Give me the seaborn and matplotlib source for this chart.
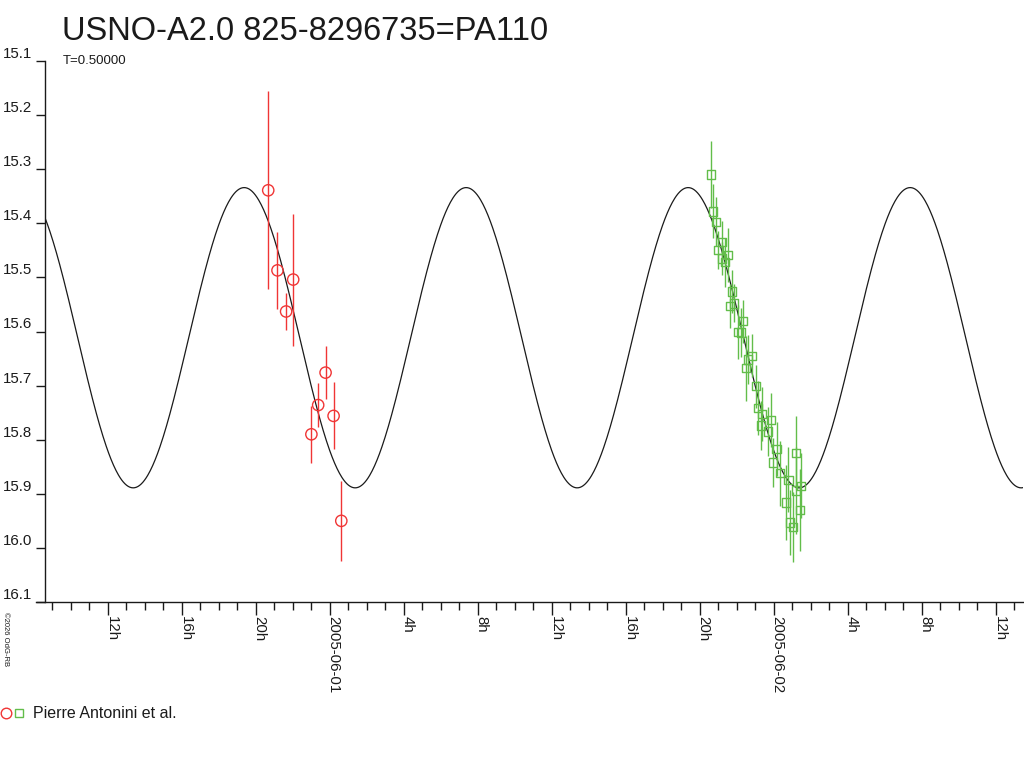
import numpy as np
import pandas as pd
import matplotlib
matplotlib.use("Agg")
import matplotlib.pyplot as plt
import matplotlib.dates as mdates
from matplotlib.ticker import FuncFormatter
from matplotlib.lines import Line2D
from matplotlib.legend_handler import HandlerTuple
import seaborn as sns

# ---------------- data ----------------
TITLE = "USNO-A2.0 825-8296735=PA110"
SUBTITLE = "T=0.50000"
OBSERVER = "Pierre Antonini et al."
COPYRIGHT = "\u00a92026 OdG-RB"

# night 1 (red circles)
red_times = ["2005-05-31 20:41", "2005-05-31 21:11", "2005-05-31 21:39",
             "2005-05-31 22:02", "2005-05-31 23:01", "2005-05-31 23:23",
             "2005-05-31 23:47", "2005-06-01 00:13", "2005-06-01 00:38"]
red_mags = [15.339, 15.487, 15.563, 15.504, 15.790, 15.736, 15.676, 15.756, 15.950]
red_errs = [0.183, 0.071, 0.035, 0.122, 0.053, 0.040, 0.049, 0.062, 0.074]

# night 2 (green squares)
green_times = ["2005-06-01 20:37", "2005-06-01 20:43", "2005-06-01 20:53",
               "2005-06-01 21:01", "2005-06-01 21:12", "2005-06-01 21:13",
               "2005-06-01 21:23", "2005-06-01 21:32", "2005-06-01 21:39",
               "2005-06-01 21:46", "2005-06-01 21:52", "2005-06-01 22:04",
               "2005-06-01 22:14", "2005-06-01 22:21", "2005-06-01 22:31",
               "2005-06-01 22:37", "2005-06-01 22:51", "2005-06-01 23:03",
               "2005-06-01 23:09", "2005-06-01 23:19", "2005-06-01 23:22",
               "2005-06-01 23:41", "2005-06-01 23:52", "2005-06-01 23:58",
               "2005-06-02 00:10", "2005-06-02 00:21", "2005-06-02 00:41",
               "2005-06-02 00:48", "2005-06-02 00:53", "2005-06-02 01:02",
               "2005-06-02 01:12", "2005-06-02 01:13", "2005-06-02 01:26",
               "2005-06-02 01:30"]
green_mags = [15.310, 15.378, 15.397, 15.449, 15.435, 15.465,
              15.472, 15.459, 15.553, 15.526, 15.548, 15.601,
              15.602, 15.581, 15.668, 15.652, 15.645, 15.701,
              15.742, 15.774, 15.752, 15.785, 15.764, 15.842,
              15.817, 15.862, 15.916, 15.874, 15.953, 15.961,
              15.894, 15.824, 15.930, 15.885]
green_errs = [0.062, 0.050, 0.045, 0.035, 0.040, 0.030,
              0.045, 0.050, 0.040, 0.040, 0.035, 0.050,
              0.045, 0.040, 0.060, 0.045, 0.040, 0.040,
              0.050, 0.045, 0.050, 0.045, 0.050, 0.045,
              0.050, 0.060, 0.070, 0.060, 0.060, 0.065,
              0.080, 0.068, 0.075, 0.060]

# fitted light-curve model (sinusoid with period T)
PERIOD_DAYS = 0.5
MEAN_MAG = 15.6115
AMPLITUDE = 0.2775
EPOCH_FAINTEST = "2005-06-01 01:23"

X_START = "2005-05-31 08:37"
X_END = "2005-06-02 13:29"
Y_TICKS = [15.1, 15.2, 15.3, 15.4, 15.5, 15.6, 15.7, 15.8, 15.9, 16.0, 16.1]

RED = "#f03535"
GREEN = "#62bd4a"
INK = "#1a1a1a"

# ---------------- frames ----------------
red_df = pd.DataFrame({"time": pd.to_datetime(red_times), "mag": red_mags, "err": red_errs})
green_df = pd.DataFrame({"time": pd.to_datetime(green_times), "mag": green_mags, "err": green_errs})

t0 = pd.Timestamp(X_START)
t1 = pd.Timestamp(X_END)
model_t = pd.date_range(t0, t1, periods=1200)
phase_days = (model_t - pd.Timestamp(EPOCH_FAINTEST)) / pd.Timedelta(days=1)
model_df = pd.DataFrame({"time": model_t,
                         "mag": MEAN_MAG + AMPLITUDE * np.cos(2 * np.pi * phase_days / PERIOD_DAYS)})

# ---------------- style ----------------
sns.set_theme(style="ticks")
plt.rcParams["font.family"] = ["Liberation Sans", "DejaVu Sans"]
plt.rcParams["axes.edgecolor"] = INK
plt.rcParams["axes.linewidth"] = 1.0

fig = plt.figure(figsize=(10.24, 7.68), dpi=100)
fig.patch.set_facecolor("white")
ax = fig.add_axes([45 / 1024, 1 - 602 / 768, 978 / 1024, 541 / 768])
ax.set_facecolor("white")

sns.lineplot(data=model_df, x="time", y="mag", ax=ax, color=INK,
             linewidth=0.9, estimator=None, sort=False)

ax.errorbar(red_df["time"], red_df["mag"], yerr=red_df["err"], fmt="none",
            ecolor=RED, elinewidth=1.0, capsize=0, zorder=3)
ax.errorbar(green_df["time"], green_df["mag"], yerr=green_df["err"], fmt="none",
            ecolor=GREEN, elinewidth=1.0, capsize=0, zorder=3)

sns.scatterplot(data=red_df, x="time", y="mag", ax=ax, marker="o", s=66,
                facecolor="none", edgecolor=RED, linewidth=1.0, zorder=4)
sns.scatterplot(data=green_df, x="time", y="mag", ax=ax, marker="s", s=36,
                facecolor="none", edgecolor=GREEN, linewidth=1.0, zorder=4)

ax.set_xlim(t0, t1)
ax.set_ylim(16.1, 15.1)
ax.set_xlabel("")
ax.set_ylabel("")
sns.despine(ax=ax)
# bottom axis line runs a little to the left of the y axis, as in the original
ax.spines["bottom"].set_bounds(mdates.date2num(t0 - pd.Timedelta(minutes=29)),
                               mdates.date2num(t1))

# y axis
ax.set_yticks(Y_TICKS)
ax.yaxis.set_major_formatter(FuncFormatter(lambda v, p: f"{v:.1f}"))
ax.tick_params(axis="y", direction="out", length=6.5, width=1.0, pad=3,
               labelsize=10.8, colors=INK)
for lab in ax.get_yticklabels():
    lab.set_verticalalignment("bottom")

# x axis
ax.xaxis.set_major_locator(mdates.HourLocator(byhour=range(0, 24, 4)))
ax.xaxis.set_minor_locator(mdates.HourLocator())


def hour_fmt(x, pos):
    frac = x % 1.0
    h = int(round(frac * 24)) % 24
    if h == 0:
        return mdates.num2date(round(x)).strftime("%Y-%m-%d")
    return f"{h}h"


ax.xaxis.set_major_formatter(FuncFormatter(hour_fmt))
ax.tick_params(axis="x", which="major", direction="out", length=9, width=1.0,
               pad=1.0, labelsize=10.8, colors=INK)
ax.tick_params(axis="x", which="minor", direction="out", length=6, width=1.0,
               colors=INK)
fig.canvas.draw()
for lab in ax.get_xticklabels():
    lab.set_rotation(-90)
    lab.set_rotation_mode("anchor")
    lab.set_horizontalalignment("left")
    lab.set_verticalalignment("baseline")

# texts
fig.text(62 / 1024, 1 - 40 / 768, TITLE, fontsize=23.5, va="baseline", ha="left", color=INK)
fig.text(63 / 1024, 1 - 63.5 / 768, SUBTITLE, fontsize=9.5, va="baseline", ha="left", color=INK)
fig.text(2 / 1024, 1 - 612 / 768, COPYRIGHT, fontsize=5.5, rotation=-90,
         va="top", ha="left", color=INK)

# legend
h_red = Line2D([], [], linestyle="none", marker="o", markersize=7.6,
               markerfacecolor="none", markeredgecolor=RED, markeredgewidth=1.0)
h_green = Line2D([], [], linestyle="none", marker="s", markersize=5.6,
                 markerfacecolor="none", markeredgecolor=GREEN, markeredgewidth=1.0)
fig.legend(handles=[(h_red, h_green)], labels=[OBSERVER],
           handler_map={tuple: HandlerTuple(ndivide=None, pad=0.0)},
           loc="center left", bbox_to_anchor=(0.0, 1 - 714 / 768),
           frameon=False, fontsize=11.5, handlelength=1.6, handletextpad=0.45,
           borderpad=0.0, borderaxespad=0.0, labelcolor=INK)

fig.savefig("out.png", dpi=100, facecolor="white")
